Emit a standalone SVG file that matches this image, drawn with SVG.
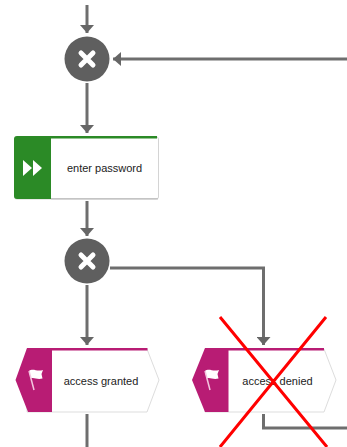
<svg xmlns="http://www.w3.org/2000/svg" width="347" height="447" viewBox="0 0 347 447">
<style>
.c{fill:none;stroke:#6e6e6e;stroke-width:3}
.g{fill:#5f5f5f}
.x{stroke:#fff;stroke-width:5;stroke-linecap:round;fill:none}
.t{font-family:"Liberation Sans",Arial,sans-serif;font-size:11px;fill:#222;text-anchor:middle}
.ev{fill:#b81c74}
.body{fill:#fff;stroke:#ddd;stroke-width:1}
.r{stroke:#f00;stroke-width:3;fill:none}
</style>
<defs>
<marker id="a" markerUnits="userSpaceOnUse" markerWidth="9" markerHeight="14" refX="8" refY="7" orient="auto"><path d="M0 0L8 7L0 14Z" fill="#666"/></marker>
<g id="flag"><path d="M0 0C4 -3 8 1 14 -1L12.500 3L13.500 7.500C8 9 5 6 1.800 7.500Z" fill="#fff"/><path d="M0 0L5 19" stroke="#f3c6df" stroke-width="1.500"/></g>
</defs>
<g id="connectors">
<path class="c" d="M87 5V33" marker-end="url(#a)"/>
<path class="c" d="M347 59H113" marker-end="url(#a)"/>
<path class="c" d="M87 83V133" marker-end="url(#a)"/>
<path class="c" d="M87 201V236" marker-end="url(#a)"/>
<path class="c" d="M87 285V345" marker-end="url(#a)"/>
<path class="c" d="M110 268H263.500V345" marker-end="url(#a)"/>
<path class="c" d="M87 414V447"/>
<path class="c" d="M263.500 414V428H347"/>
</g>
<g id="merge1"><circle class="g" cx="87" cy="59" r="22.500"/><path class="x" d="M81 53L93 65M93 53L81 65"/></g>
<g id="enter-password">
<rect x="14.500" y="137" width="144" height="62" rx="2" fill="#fff" stroke="#d4d4d4"/>
<path d="M51 198.800H158" stroke="#c4c4c4" stroke-width="1.500" fill="none"/>
<path d="M14 139Q14 136 17 136H157V138.500H51V199H17Q14 199 14 196Z" fill="#2b8a26"/>
<path d="M23 160L32 168L23 176ZM33 160L42 168L33 176Z" fill="#fff"/>
<text class="t" x="104.500" y="172">enter password</text>
</g>
<g id="split"><circle class="g" cx="87" cy="261" r="22.500"/><path class="x" d="M81 255L93 267M93 255L81 267"/></g>
<g id="access-granted">
<path class="body" d="M27 349H147L159 380L147 412H27Z"/>
<path class="ev" d="M27 348H147.500V350.500H52V412H28L15.500 380Z"/>
<use href="#flag" x="29" y="371"/>
<text class="t" x="101" y="385">access granted</text>
</g>
<g id="access-denied">
<path class="body" d="M205 349H324L336 380L324 412H205Z"/>
<path class="ev" d="M205 348H324V350.500H228.500V412H205L192 380Z"/>
<use href="#flag" x="205" y="371"/>
<text class="t" x="277.500" y="385">access denied</text>
</g>
<g id="cross">
<path class="r" d="M220 317L327 447M326 317L220 447"/>
</g>
</svg>
